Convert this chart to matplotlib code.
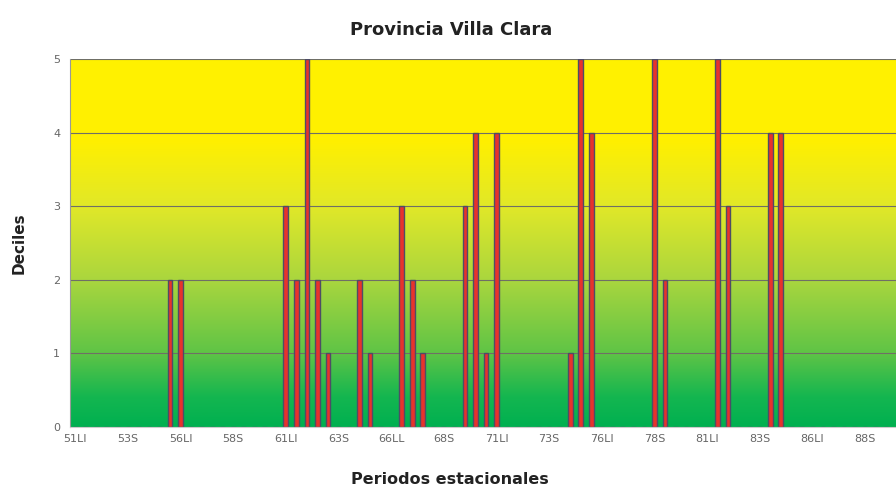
import numpy as np
import matplotlib.pyplot as plt
from matplotlib.colors import LinearSegmentedColormap

plt.rcParams['font.family'] = ['DejaVu Sans']

# seasonal periods: each year has a rainy (LI) and a dry (S) period
years = list(range(51, 90))
periods = [f"{y}{s}" for y in years for s in ("LI", "S")]

# periods with a non-zero decile and their decile value
event_periods = ["55S", "56LI", "61LI", "61S", "62LI", "62S", "63LI", "64S", "65LI",
                 "66S", "67LI", "67S", "69S", "70LI", "70S", "71LI", "74S", "75LI",
                 "75S", "78S", "79LI", "81S", "82LI", "84LI", "84S"]
event_deciles = [2, 2, 3, 2, 5, 2, 1, 2, 1,
                 3, 2, 1, 3, 4, 1, 4, 1, 5,
                 4, 5, 2, 5, 3, 4, 4]

tick_labels = ["51LI", "53S", "56LI", "58S", "61LI", "63S", "66LL", "68S",
               "71LI", "73S", "76LI", "78S", "81LI", "83S", "86LI", "88S"]

values = np.zeros(len(periods))
for p, d in zip(event_periods, event_deciles):
    values[periods.index(p)] = d

W, H = 896, 495
fig = plt.figure(figsize=(W / 100, H / 100), dpi=100)
ax = fig.add_axes([70 / W, (H - 427) / H, 1 - 70 / W, (427 - 59) / H])

step = 10.53
xmax = -0.5 + (W - 70) / step
ax.set_xlim(-0.5, xmax)
ax.set_ylim(0, 5)

# yellow-to-green background
stops = [(0.0, (0 / 255, 176 / 255, 80 / 255)),
         (0.08, (20 / 255, 182 / 255, 80 / 255)),
         (0.2, (95 / 255, 196 / 255, 70 / 255)),
         (0.4, (170 / 255, 214 / 255, 62 / 255)),
         (0.6, (225 / 255, 232 / 255, 40 / 255)),
         (0.78, (255 / 255, 240 / 255, 0 / 255)),
         (1.0, (255 / 255, 242 / 255, 0 / 255))]
cmap = LinearSegmentedColormap.from_list("yg", stops)
grad = np.linspace(1, 0, 256).reshape(-1, 1)
ax.imshow(grad, cmap=cmap, aspect='auto', extent=(-0.5, xmax, 0, 5),
          zorder=0, interpolation='bicubic')

for y in range(1, 6):
    ax.axhline(y, color='#6f6f66', lw=0.8, zorder=1)

x = np.arange(len(periods))
ax.bar(x, values, width=0.45, color='#e8322c', edgecolor='#4d4d66',
       linewidth=1.0, zorder=2)

ax.set_xticks(x[::5][:len(tick_labels)])
ax.set_xticklabels(tick_labels)
ax.set_yticks(range(6))
ax.tick_params(axis='both', labelsize=8, colors='#666666', length=0)
ax.tick_params(axis='x', pad=5)
ax.tick_params(axis='y', pad=7)

for side in ("top", "right"):
    ax.spines[side].set_visible(False)
ax.spines['left'].set_color('#999999')
ax.spines['bottom'].set_color('#cccccc')

fig.text(451 / W, 1 - 30 / H, "Provincia Villa Clara", ha='center', va='center',
         fontsize=13, fontweight='bold', color='#222222')
fig.text(450 / W, 1 - 479 / H, "Periodos estacionales", ha='center', va='center',
         fontsize=11.5, fontweight='bold', color='#222222')
fig.text(19 / W, 1 - 243 / H, "Deciles", ha='center', va='center', rotation=90,
         fontsize=11, fontweight='bold', color='#222222')

fig.savefig("out.png", dpi=100)
